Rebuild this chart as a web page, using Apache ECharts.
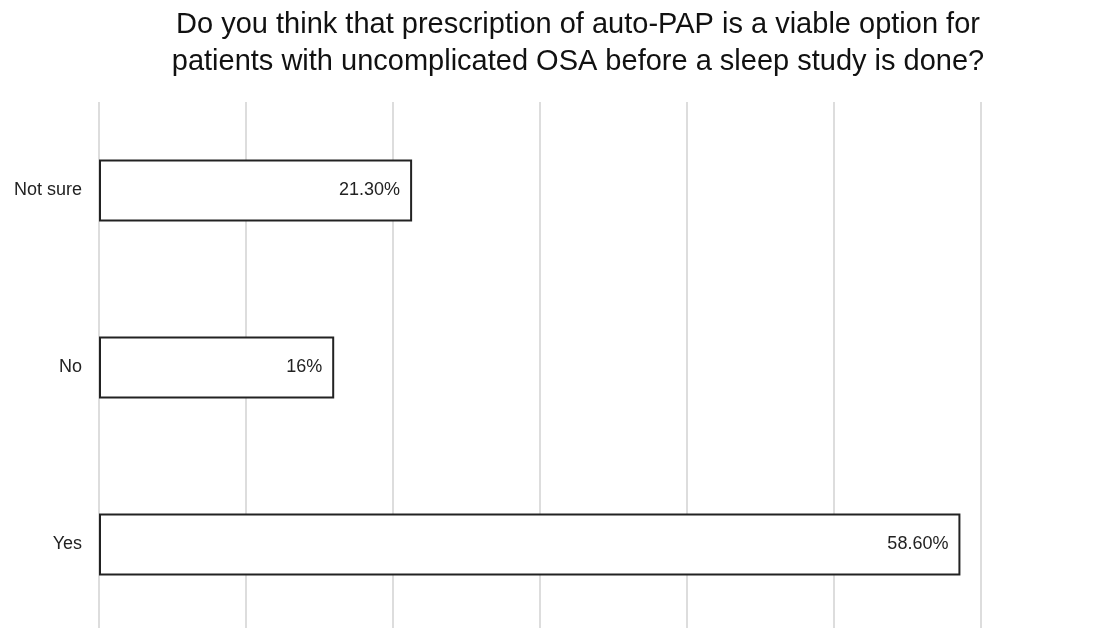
<!DOCTYPE html>
<html><head><meta charset="utf-8">
<script src="https://cdn.jsdelivr.net/npm/echarts@6/dist/echarts.min.js"></script>
<style>html,body{margin:0;padding:0;background:#fff;overflow:hidden;width:1119px;height:628px}#c{width:1119px;height:640px}</style>
</head><body><div id="c"></div>
<script>
const titleText = "Do you think that prescription of auto-PAP is a viable option for\npatients with uncomplicated OSA before a sleep study is done?";
const categories = ["Yes", "No", "Not sure"];
const values = [58.6, 16, 21.3];
const valueLabels = ["58.60%", "16%", "21.30%"];

const chart = echarts.init(document.getElementById('c'), null, {renderer: 'canvas'});
chart.setOption({
  backgroundColor: '#fff',
  animation: false,
  title: {
    text: titleText,
    left: 573, textAlign: 'center', top: 1,
    textStyle: {fontFamily: 'Liberation Sans', fontSize: 29, fontWeight: 'normal', color: '#111', lineHeight: 37}
  },
  grid: {left: 99, right: 138, top: 102, height: 531, containLabel: false},
  xAxis: {
    type: 'value', min: 0, max: 60, interval: 10,
    axisLabel: {show: false}, axisLine: {show: false}, axisTick: {show: false},
    splitLine: {show: true, lineStyle: {color: '#dddddd', width: 2}}
  },
  yAxis: {
    type: 'category', data: categories,
    axisLine: {show: false}, axisTick: {show: false},
    axisLabel: {margin: 17, fontFamily: 'Liberation Sans', fontSize: 18, color: '#222'}
  },
  series: [{
    type: 'bar', data: values, barWidth: 62,
    itemStyle: {color: '#fff', borderColor: '#222', borderWidth: 2},
    label: {
      show: true, position: 'insideRight', distance: 12,
      fontFamily: 'Liberation Sans', fontSize: 18, color: '#222',
      formatter: p => valueLabels[p.dataIndex]
    }
  }]
});
</script></body></html>
